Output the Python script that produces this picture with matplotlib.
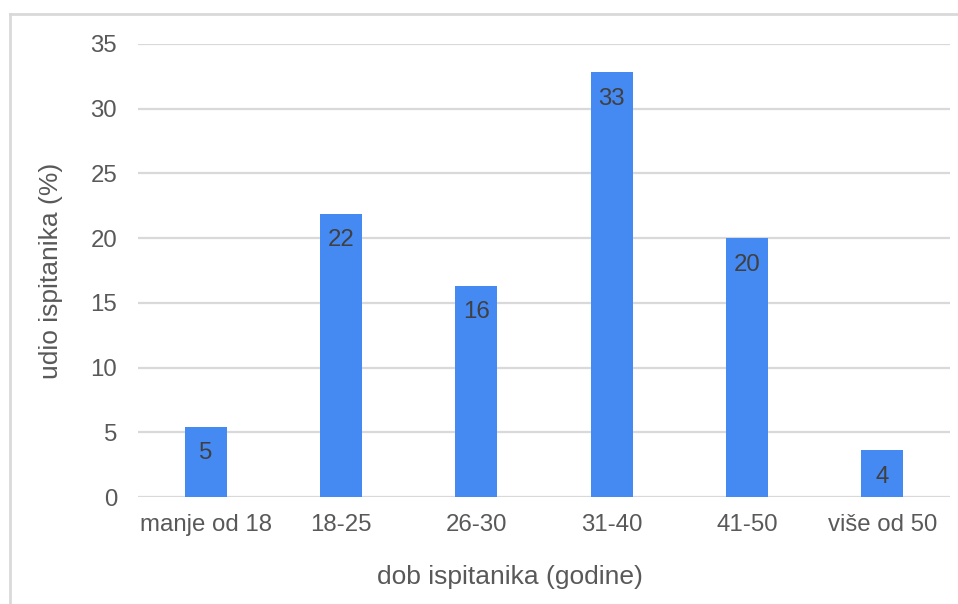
import matplotlib
matplotlib.use("Agg")
import matplotlib.pyplot as plt
from matplotlib.lines import Line2D

categories = ["manje od 18", "18-25", "26-30", "31-40", "41-50", "više od 50"]
values = [5.4, 21.9, 16.3, 32.8, 20.0, 3.6]
labels = ["5", "22", "16", "33", "20", "4"]
yticks = [0, 5, 10, 15, 20, 25, 30, 35]

plt.rcParams['font.family'] = ['Liberation Sans', 'DejaVu Sans']
text_color = "#595959"

fig = plt.figure(figsize=(9.58, 6.04), dpi=100)
ax = fig.add_axes([138/958, 1-497/604, (950-138)/958, (497-44)/604])

x = list(range(len(categories)))
bars = ax.bar(x, values, width=0.31, color="#4589F3", zorder=3)
for b, lab in zip(bars, labels):
    ax.annotate(lab, (b.get_x() + b.get_width()/2, b.get_height()),
                xytext=(0, -19), textcoords="offset points",
                ha="center", va="center", fontsize=17.3, color="#404040", zorder=4)

ax.set_xlim(-0.5, len(categories) - 0.5)
ax.set_ylim(0, 35)
ax.set_yticks(yticks)
ax.set_xticks(x)
ax.set_xticklabels(categories)
ax.tick_params(axis="both", length=0, labelsize=17.3, labelcolor=text_color)
ax.tick_params(axis="y", pad=15)
ax.tick_params(axis="x", pad=12)
ax.grid(axis="y", color="#d9d9d9", linewidth=1.6, zorder=0)
for s in ax.spines.values():
    s.set_visible(False)

ax.set_xlabel("dob ispitanika (godine)", fontsize=19, color=text_color)
ax.xaxis.set_label_coords((510-138)/812, -(565-497)/453)
ax.set_ylabel("udio ispitanika (%)", fontsize=19, color=text_color, labelpad=20)

# outer light border (top and left)
fig.add_artist(Line2D([10/958, 1], [1-14/604, 1-14/604], transform=fig.transFigure,
                      color="#d9d9d9", linewidth=2))
fig.add_artist(Line2D([10/958, 10/958], [0, 1-14/604], transform=fig.transFigure,
                      color="#d9d9d9", linewidth=2))

fig.savefig("out.png", dpi=100)
